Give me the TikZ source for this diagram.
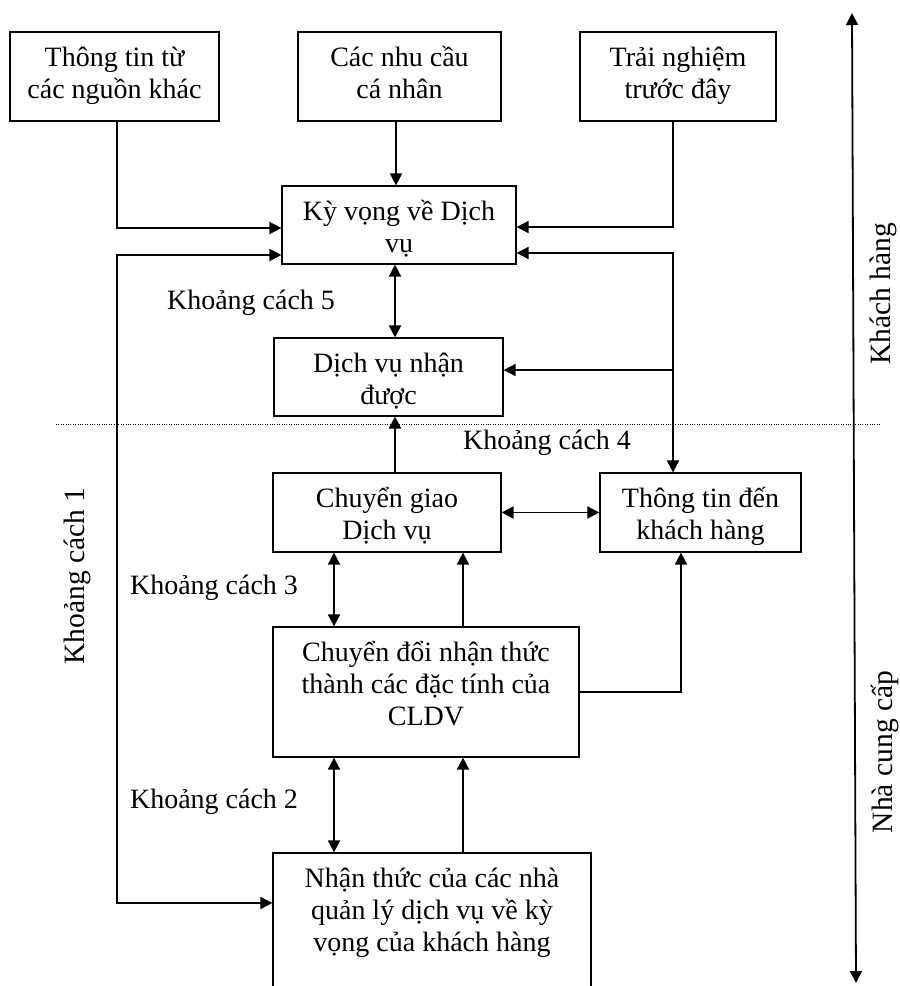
\documentclass[tikz,border=0pt]{standalone}
\usepackage{fontspec}
\setmainfont{Liberation Serif}
\usetikzlibrary{arrows.meta}

% text block with fixed size, lines hanging from the top edge
\newcommand{\boxlines}[3]{\parbox[c][#2][t]{#1}{\centering\rule{0pt}{34pt}#3}}

\begin{document}
\begin{tikzpicture}[x=1pt,y=-1pt,
  every node/.style={font=\fontsize{28}{32}\selectfont},
  box/.style={draw,line width=1.2pt,inner sep=0pt},
  lbl/.style={inner sep=0pt},
  side/.style={inner sep=0pt,rotate=90,font=\fontsize{29.5}{32}\selectfont},
  arr/.style={line width=1.8pt,-{Triangle[length=12pt,width=12pt]}},
  dbl/.style={line width=1.8pt,{Triangle[length=12pt,width=12pt]}-{Triangle[length=12pt,width=12pt]}}]

\useasboundingbox (0,0) rectangle (900,986);
\clip (0,0) rectangle (900,986);
\fill[white] (0,0) rectangle (900,986);

% boxes
\node[box] (b1) at (114.5,76.5) {\boxlines{209pt}{89pt}{Thông tin từ\\các nguồn khác}};
\node[box] (b2) at (399.5,76.5) {\boxlines{203pt}{89pt}{Các nhu cầu\\cá nhân}};
\node[box] (b3) at (678,76.5) {\boxlines{196pt}{89pt}{Trải nghiệm\\trước đây}};
\node[box] (kv) at (399,225) {\boxlines{234pt}{78pt}{Kỳ vọng về Dịch\\vụ}};
\node[box] (dvnd) at (388.5,377) {\boxlines{229pt}{78pt}{Dịch vụ nhận\\được}};
\node[box] (cg) at (387,512.5) {\boxlines{228pt}{79pt}{Chuyển giao\\Dịch vụ}};
\node[box] (ttd) at (700.5,512.5) {\boxlines{201pt}{79pt}{Thông tin đến\\khách hàng}};
\node[box] (cd) at (426,692) {\boxlines{306pt}{130pt}{Chuyển đổi nhận thức\\thành các đặc tính của\\CLDV}};
\node[box] (nt) at (432,933) {\boxlines{318pt}{160pt}{Nhận thức của các nhà\\quản lý dịch vụ về kỳ\\vọng của khách hàng}};

% gap labels
\node[lbl] (k5) at (251,303) {Khoảng cách 5};
\node[lbl] (k4) at (547,443) {Khoảng cách 4};
\node[lbl] (k3) at (214,588) {Khoảng cách 3};
\node[lbl] (k2) at (214,802) {Khoảng cách 2};
\node[side] (k1) at (77,576) {Khoảng cách 1};
\node[side] (kh) at (883,294) {Khách hàng};
\node[side] (ncc) at (885,752) {Nhà cung cấp};

% customer / provider divider
\coordinate (d1) at (56,424);
\coordinate (d2) at (880,424);
\draw[line width=0.8pt,dash pattern=on 1pt off 1.4pt] (d1) -- (d2);

% side axis
\coordinate (ax1) at (852,13);
\coordinate (ax2) at (856,983);
\draw[dbl] (ax1) -- (ax2);

% inputs to expectations
\draw[arr] ([xshift=2.5pt]b1.south) |- ([yshift=-3pt]kv.west);
\draw[arr] ([xshift=-3.5pt]b2.south) -- ([xshift=-3pt]kv.north);
\draw[arr] ([xshift=-5pt]b3.south) |- ([yshift=-2pt]kv.east);

% communication loop
\draw[dbl] ([yshift=-28pt]kv.east) -| ([xshift=-27.5pt]ttd.north);
\coordinate (jn) at (673,370);
\draw[arr] (jn) -- (jn -| dvnd.east);

% gap 5
\draw[dbl] ([xshift=-4pt]kv.south) -- ([xshift=-4pt]kv.south |- dvnd.north);
\draw[arr] ([xshift=8pt]cg.north) -- ([xshift=8pt]cg.north |- dvnd.south);

% gap 4
\draw[dbl] (cg.east) -- (ttd.west);

% gap 3
\draw[dbl] ([xshift=-92pt]cd.north) -- ([xshift=-92pt]cd.north |- cg.south);
\draw[arr] ([xshift=37pt]cd.north) -- ([xshift=37pt]cd.north |- cg.south);
\draw[arr] (cd.east) -| ([xshift=-19.5pt]ttd.south);

% gap 2
\draw[dbl] ([xshift=-98pt]nt.north) -- ([xshift=-98pt]nt.north |- cd.south);
\draw[arr] ([xshift=31pt]nt.north) -- ([xshift=31pt]nt.north |- cd.south);

% gap 1 feedback
\coordinate (fb) at (117,600);
\draw[dbl] ([yshift=30pt]nt.west) -| (fb) |- ([yshift=-30pt]kv.west);
\end{tikzpicture}
\end{document}
